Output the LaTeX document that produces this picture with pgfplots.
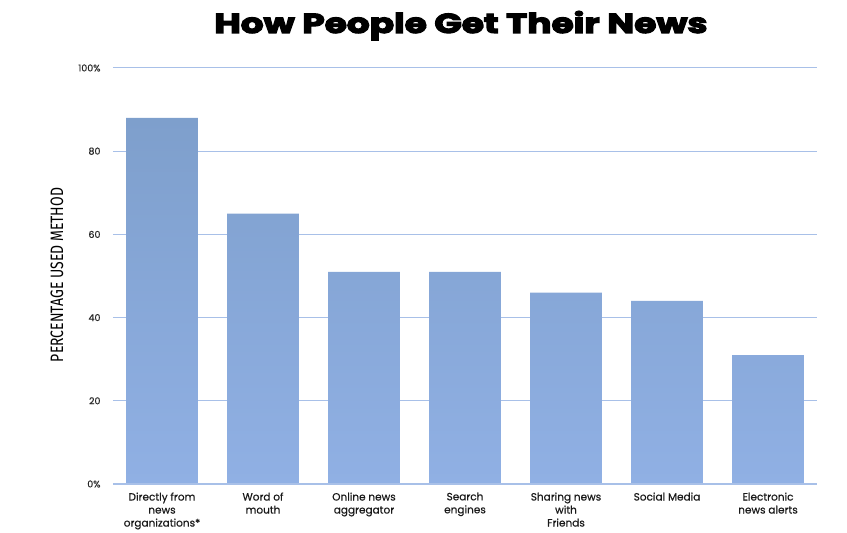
\documentclass[border=0pt]{standalone}
\usepackage{fontspec}
\setmainfont{Poppins}
\newfontfamily\medfont{Poppins}[FakeBold=0.5]
\newfontfamily\condfont{Fira Sans}[FakeStretch=0.78]
\newfontfamily\titlefont{Poppins}[UprightFont=* Bold, FakeBold=4]
\usepackage{graphicx}
\usepackage{pgfplots}
\pgfplotsset{compat=1.18}
\definecolor{gridc}{RGB}{168,192,232}
\definecolor{bartop}{RGB}{126,159,204}
\definecolor{barbot}{RGB}{144,176,228}
\begin{document}
\begin{tikzpicture}
\path (0,0) rectangle (847pt,530pt);
\begin{axis}[at={(113pt,46pt)}, anchor=south west, scale only axis,
  width=704pt, height=416pt,
  ymin=0, ymax=100, xmin=-0.485, xmax=6.485,
  axis line style={draw=none},
  ymajorgrids, grid style={gridc, line width=1pt},
  major tick length=0pt,
  ytick={0,20,40,60,80,100},
  yticklabels={0\%,20,40,60,80,100\%},
  yticklabel style={font=\medfont\fontsize{9.5}{11}\selectfont, xshift=-9pt, text=black!85},
  xtick=data,
  xticklabels={{Directly from\\news\\organizations*},{Word of\\mouth},{Online news\\aggregator},{Search\\engines},{Sharing news\\with\\Friends},{Social Media},{Electronic\\news alerts}},
  xticklabel style={align=center, font=\medfont\fontsize{10.5}{13}\selectfont, yshift=-5pt, text=black!90},
  ybar, bar width=0.71,
]
\addplot[draw=none, top color=bartop, bottom color=barbot] coordinates {(0,88) (1,65) (2,51) (3,51) (4,46) (5,44) (6,31)};
\end{axis}
\draw[gridc, line width=1.4pt] (113pt,46pt) -- (817pt,46pt);
\node[font=\titlefont, inner sep=0pt, anchor=base] at (461pt,497pt) {\resizebox{493pt}{22pt}{How People Get Their News}};
\node[rotate=90, inner sep=0pt, font=\condfont] at (57pt,255pt) {\resizebox{174pt}{!}{PERCENTAGE USED METHOD}};
\end{tikzpicture}
\end{document}
